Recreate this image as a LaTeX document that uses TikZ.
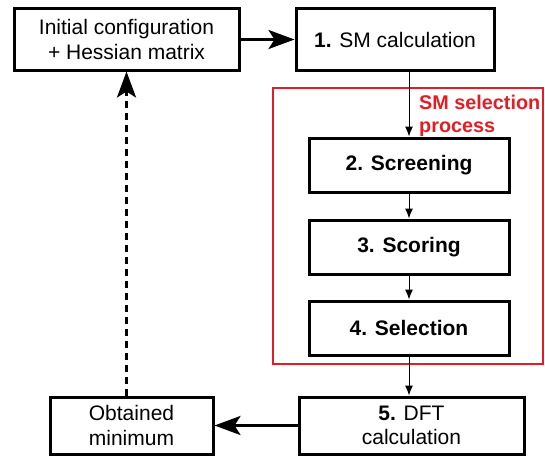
\documentclass[tikz,border=0pt]{standalone}
\usepackage{fontspec}
\setmainfont{Liberation Sans}
\usetikzlibrary{arrows.meta}
\definecolor{boxred}{RGB}{226,30,36}

\begin{document}
\begin{tikzpicture}[x=1pt, y=-1pt,
  stepbox/.style={draw, line width=3pt, align=center, inner sep=0pt,
    font=\fontsize{21}{24.5}\selectfont},
  bigarrow/.style={line width=3pt, -{Stealth[length=26pt, width=19pt, inset=6pt]}},
  thinarrow/.style={line width=1pt, -{Latex[length=10pt, width=8pt]}}]
\useasboundingbox (0,0) rectangle (545,460);

% upper row
\node[stepbox, minimum width=225pt, minimum height=61pt] (init) at (126.5, 39.5)
  {Initial configuration\\+ Hessian matrix};
\node[stepbox, minimum width=198pt, minimum height=61pt] (smcalc) at (395, 39.5)
  {\textbf{1.} SM calculation};

% SM selection process
\draw[boxred, line width=1.2pt] (273, 88) rectangle (543, 364);
\node[anchor=north west, text=boxred, align=left, inner sep=0pt,
  font=\fontsize{19.8}{22.5}\selectfont\bfseries] (label) at (419, 95)
  {SM selection\\process};

\node[stepbox, font=\fontsize{21}{24.5}\selectfont\bfseries,
  minimum width=200pt, minimum height=54pt] (screen) at (409, 165) {2. Screening};
\node[stepbox, font=\fontsize{21}{24.5}\selectfont\bfseries,
  minimum width=200pt, minimum height=54pt] (score) at (409, 247) {3. Scoring};
\node[stepbox, font=\fontsize{21}{24.5}\selectfont\bfseries,
  minimum width=200pt, minimum height=54pt] (select) at (409, 328) {4. Selection};

% lower row
\node[stepbox, minimum width=225pt, minimum height=57pt] (dft) at (411.5, 425.5)
  {\textbf{5.} DFT\\calculation};
\node[stepbox, minimum width=163pt, minimum height=57pt] (minim) at (131.5, 425.5)
  {Obtained\\minimum};

% arrows
\draw[bigarrow] (init.east) -- (smcalc.west);
\draw[thinarrow] (smcalc.south -| screen.north) -- (screen.north);
\draw[thinarrow] (screen.south) -- (score.north);
\draw[thinarrow] (score.south) -- (select.north);
\draw[thinarrow] (select.south) -- (select.south |- dft.north);
\draw[bigarrow] (dft.west) -- (minim.east);
\draw[bigarrow, dash pattern=on 7pt off 5pt] (init.south |- minim.north) -- (init.south);
\end{tikzpicture}
\end{document}
